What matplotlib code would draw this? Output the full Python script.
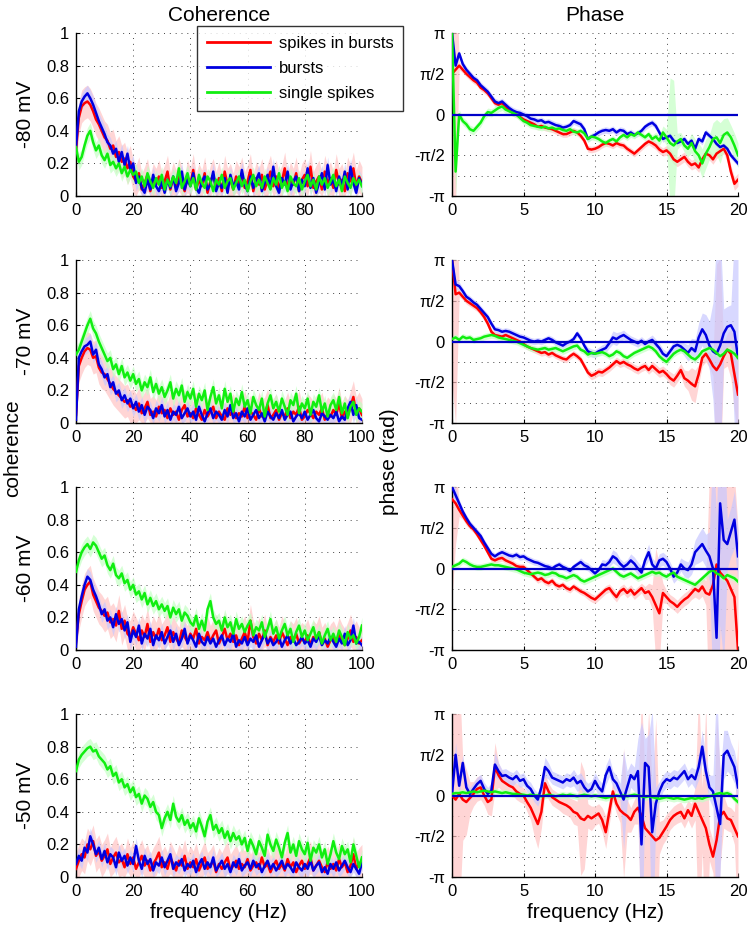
import numpy as np
import matplotlib.pyplot as plt
from matplotlib.ticker import MultipleLocator

plt.rcParams['font.family'] = ['Liberation Sans', 'DejaVu Sans']

rows = ['-80 mV', '-70 mV', '-60 mV', '-50 mV']
series = ['spikes in bursts', 'bursts', 'single spikes']

# coherence, read at 1 Hz steps from 0 to 100 Hz
coh80_red = [0.28, 0.48, 0.55, 0.57, 0.58, 0.56, 0.52, 0.47, 0.44, 0.40,
             0.36, 0.34, 0.29, 0.31, 0.24, 0.27, 0.21, 0.23, 0.17, 0.21,
             0.12, 0.09, 0.14, 0.04, 0.08, 0.13, 0.03, 0.10, 0.07, 0.12,
             0.05, 0.09, 0.15, 0.04, 0.11, 0.06, 0.13, 0.08, 0.03, 0.12,
             0.07, 0.16, 0.04, 0.10, 0.06, 0.14, 0.02, 0.09, 0.13, 0.05,
             0.11, 0.03, 0.15, 0.07, 0.10, 0.04, 0.12, 0.08, 0.14, 0.05,
             0.09, 0.16, 0.03, 0.11, 0.07, 0.13, 0.04, 0.10, 0.15, 0.06,
             0.12, 0.05, 0.09, 0.17, 0.04, 0.11, 0.07, 0.14, 0.03, 0.10,
             0.13, 0.06, 0.18, 0.05, 0.09, 0.12, 0.04, 0.15, 0.08, 0.11,
             0.05, 0.16, 0.07, 0.10, 0.03, 0.14, 0.09, 0.17, 0.06, 0.12,
             0.08]
coh80_blue = [0.30, 0.52, 0.58, 0.61, 0.63, 0.60, 0.56, 0.51, 0.46, 0.42,
              0.38, 0.33, 0.31, 0.26, 0.29, 0.21, 0.27, 0.19, 0.26, 0.16,
              0.20, 0.08, 0.12, 0.05, 0.02, 0.10, 0.04, 0.13, 0.06, 0.03,
              0.09, 0.02, 0.10, 0.05, 0.12, 0.03, 0.08, 0.15, 0.04, 0.10,
              0.06, 0.14, 0.05, 0.02, 0.09, 0.12, 0.04, 0.07, 0.15, 0.03,
              0.08, 0.05, 0.11, 0.02, 0.13, 0.06, 0.09, 0.04, 0.16, 0.07,
              0.03, 0.12, 0.05, 0.10, 0.14, 0.03, 0.08, 0.13, 0.05, 0.18,
              0.06, 0.02, 0.11, 0.07, 0.15, 0.04, 0.09, 0.12, 0.03, 0.10,
              0.06, 0.17, 0.05, 0.11, 0.02, 0.08, 0.14, 0.04, 0.19, 0.07,
              0.10, 0.03, 0.12, 0.06, 0.15, 0.04, 0.18, 0.08, 0.02, 0.11,
              0.07]
coh80_green = [0.30, 0.21, 0.24, 0.31, 0.37, 0.40, 0.33, 0.28, 0.31, 0.25,
               0.22, 0.26, 0.19, 0.21, 0.17, 0.20, 0.14, 0.18, 0.12, 0.16,
               0.13, 0.15, 0.08, 0.12, 0.06, 0.14, 0.09, 0.05, 0.11, 0.07,
               0.13, 0.04, 0.10, 0.06, 0.12, 0.08, 0.17, 0.05, 0.09, 0.14,
               0.06, 0.11, 0.04, 0.13, 0.08, 0.05, 0.12, 0.09, 0.03, 0.10,
               0.07, 0.13, 0.05, 0.09, 0.11, 0.04, 0.08, 0.12, 0.06, 0.10,
               0.03, 0.09, 0.13, 0.06, 0.10, 0.05, 0.12, 0.08, 0.04, 0.11,
               0.07, 0.14, 0.05, 0.09, 0.03, 0.12, 0.08, 0.06, 0.11, 0.04,
               0.09, 0.13, 0.06, 0.10, 0.04, 0.12, 0.07, 0.11, 0.05, 0.09,
               0.13, 0.06, 0.10, 0.03, 0.12, 0.08, 0.05, 0.11, 0.07, 0.10,
               0.06]

coh70_red = [0.05, 0.35, 0.40, 0.44, 0.46, 0.45, 0.40, 0.41, 0.34, 0.31,
             0.30, 0.27, 0.24, 0.21, 0.19, 0.17, 0.15, 0.13, 0.14, 0.10,
             0.11, 0.08, 0.12, 0.06, 0.09, 0.13, 0.05, 0.07, 0.04, 0.10,
             0.06, 0.08, 0.03, 0.09, 0.05, 0.07, 0.02, 0.08, 0.11, 0.04,
             0.06, 0.03, 0.09, 0.05, 0.02, 0.08, 0.04, 0.07, 0.10, 0.03,
             0.07, 0.04, 0.02, 0.09, 0.05, 0.08, 0.03, 0.06, 0.04, 0.10,
             0.03, 0.07, 0.05, 0.02, 0.09, 0.04, 0.06, 0.11, 0.03, 0.05,
             0.08, 0.02, 0.06, 0.04, 0.09, 0.03, 0.07, 0.05, 0.10, 0.02,
             0.04, 0.08, 0.06, 0.03, 0.07, 0.05, 0.09, 0.02, 0.06, 0.04,
             0.08, 0.05, 0.12, 0.03, 0.07, 0.04, 0.10, 0.16, 0.06, 0.09,
             0.05]
coh70_blue = [0.02, 0.40, 0.44, 0.47, 0.48, 0.50, 0.42, 0.45, 0.36, 0.33,
              0.28, 0.30, 0.22, 0.25, 0.18, 0.20, 0.14, 0.17, 0.12, 0.15,
              0.09, 0.13, 0.07, 0.11, 0.05, 0.10, 0.08, 0.03, 0.09, 0.06,
              0.11, 0.04, 0.08, 0.02, 0.07, 0.05, 0.10, 0.03, 0.06, 0.09,
              0.04, 0.07, 0.02, 0.10, 0.05, 0.01, 0.06, 0.09, 0.03, 0.07,
              0.05, 0.02, 0.08, 0.04, 0.11, 0.03, 0.06, 0.01, 0.07, 0.04,
              0.09, 0.02, 0.05, 0.08, 0.03, 0.06, 0.01, 0.07, 0.04, 0.02,
              0.06, 0.03, 0.08, 0.02, 0.05, 0.07, 0.01, 0.04, 0.06, 0.03,
              0.07, 0.02, 0.05, 0.08, 0.03, 0.01, 0.06, 0.04, 0.02, 0.05,
              0.03, 0.07, 0.01, 0.04, 0.02, 0.09, 0.13, 0.05, 0.11, 0.03,
              0.02]
coh70_green = [0.42, 0.45, 0.50, 0.55, 0.60, 0.64, 0.58, 0.55, 0.50, 0.46,
               0.42, 0.38, 0.40, 0.33, 0.36, 0.30, 0.35, 0.28, 0.31, 0.26,
               0.30, 0.24, 0.27, 0.20, 0.25, 0.22, 0.28, 0.19, 0.24, 0.18,
               0.22, 0.16, 0.20, 0.25, 0.15, 0.21, 0.17, 0.23, 0.13, 0.19,
               0.15, 0.21, 0.10, 0.18, 0.14, 0.20, 0.08, 0.16, 0.22, 0.12,
               0.17, 0.09, 0.21, 0.13, 0.18, 0.07, 0.15, 0.11, 0.19, 0.10,
               0.14, 0.06, 0.16, 0.11, 0.08, 0.15, 0.04, 0.12, 0.17, 0.09,
               0.13, 0.07, 0.15, 0.10, 0.05, 0.14, 0.11, 0.18, 0.06, 0.12,
               0.09, 0.15, 0.05, 0.13, 0.10, 0.17, 0.07, 0.12, 0.04, 0.11,
               0.14, 0.08, 0.16, 0.06, 0.12, 0.03, 0.10, 0.13, 0.05, 0.09,
               0.07]

coh60_red = [0.05, 0.22, 0.30, 0.37, 0.40, 0.42, 0.34, 0.30, 0.26, 0.24,
             0.21, 0.23, 0.17, 0.19, 0.15, 0.24, 0.13, 0.18, 0.10, 0.08,
             0.14, 0.10, 0.06, 0.12, 0.08, 0.16, 0.05, 0.11, 0.07, 0.13,
             0.06, 0.09, 0.14, 0.05, 0.11, 0.07, 0.04, 0.12, 0.08, 0.05,
             0.10, 0.07, 0.13, 0.04, 0.08, 0.06, 0.11, 0.05, 0.09, 0.12,
             0.04, 0.08, 0.13, 0.06, 0.10, 0.05, 0.09, 0.03, 0.07, 0.11,
             0.05, 0.18, 0.08, 0.04, 0.10, 0.06, 0.12, 0.03, 0.08, 0.05,
             0.09, 0.04, 0.11, 0.07, 0.03, 0.08, 0.06, 0.10, 0.04, 0.07,
             0.05, 0.09, 0.03, 0.08, 0.06, 0.11, 0.04, 0.07, 0.02, 0.06,
             0.08, 0.04, 0.10, 0.06, 0.03, 0.07, 0.12, 0.05, 0.08, 0.04,
             0.06]
coh60_blue = [0.02, 0.25, 0.33, 0.40, 0.45, 0.43, 0.37, 0.33, 0.28, 0.22,
              0.25, 0.18, 0.20, 0.14, 0.22, 0.16, 0.19, 0.12, 0.17, 0.05,
              0.12, 0.08, 0.15, 0.04, 0.10, 0.07, 0.13, 0.03, 0.09, 0.06,
              0.11, 0.04, 0.08, 0.12, 0.05, 0.10, 0.03, 0.07, 0.13, 0.04,
              0.09, 0.06, 0.02, 0.10, 0.05, 0.03, 0.08, 0.04, 0.07, 0.02,
              0.06, 0.09, 0.03, 0.07, 0.05, 0.10, 0.02, 0.06, 0.04, 0.08,
              0.03, 0.07, 0.05, 0.09, 0.02, 0.06, 0.10, 0.04, 0.07, 0.03,
              0.05, 0.08, 0.02, 0.06, 0.09, 0.04, 0.07, 0.03, 0.05, 0.08,
              0.04, 0.06, 0.02, 0.07, 0.05, 0.09, 0.03, 0.06, 0.04, 0.08,
              0.05, 0.02, 0.07, 0.04, 0.10, 0.03, 0.06, 0.15, 0.04, 0.05,
              0.03]
coh60_green = [0.48, 0.55, 0.60, 0.63, 0.65, 0.62, 0.66, 0.64, 0.60, 0.56,
               0.58, 0.52, 0.49, 0.53, 0.46, 0.44, 0.47, 0.41, 0.43, 0.37,
               0.40, 0.34, 0.36, 0.31, 0.35, 0.28, 0.32, 0.27, 0.30, 0.25,
               0.28, 0.24, 0.27, 0.20, 0.26, 0.22, 0.25, 0.18, 0.23, 0.21,
               0.17, 0.15, 0.21, 0.13, 0.18, 0.12, 0.25, 0.30, 0.20, 0.16,
               0.18, 0.12, 0.20, 0.14, 0.17, 0.10, 0.19, 0.13, 0.16, 0.11,
               0.15, 0.18, 0.09, 0.14, 0.12, 0.17, 0.08, 0.13, 0.19, 0.10,
               0.14, 0.07, 0.12, 0.16, 0.09, 0.13, 0.05, 0.11, 0.15, 0.08,
               0.12, 0.06, 0.10, 0.14, 0.07, 0.11, 0.04, 0.09, 0.13, 0.06,
               0.10, 0.05, 0.12, 0.08, 0.03, 0.11, 0.07, 0.09, 0.04, 0.08,
               0.15]

coh50_red = [0.05, 0.10, 0.14, 0.12, 0.20, 0.17, 0.22, 0.13, 0.16, 0.10,
             0.13, 0.17, 0.08, 0.12, 0.15, 0.09, 0.11, 0.06, 0.14, 0.08,
             0.12, 0.05, 0.09, 0.13, 0.07, 0.10, 0.04, 0.08, 0.11, 0.15,
             0.06, 0.09, 0.05, 0.12, 0.08, 0.04, 0.10, 0.07, 0.13, 0.05,
             0.09, 0.06, 0.11, 0.04, 0.08, 0.12, 0.05, 0.07, 0.10, 0.03,
             0.08, 0.05, 0.09, 0.12, 0.04, 0.07, 0.10, 0.05, 0.08, 0.06,
             0.11, 0.04, 0.07, 0.09, 0.05, 0.12, 0.06, 0.08, 0.03, 0.07,
             0.10, 0.05, 0.08, 0.04, 0.11, 0.06, 0.09, 0.03, 0.07, 0.10,
             0.05, 0.08, 0.12, 0.04, 0.07, 0.10, 0.06, 0.03, 0.09, 0.05,
             0.08, 0.04, 0.11, 0.06, 0.09, 0.03, 0.07, 0.14, 0.05, 0.08,
             0.10]
coh50_blue = [0.08, 0.13, 0.10, 0.18, 0.15, 0.25, 0.20, 0.14, 0.18, 0.11,
              0.16, 0.09, 0.14, 0.12, 0.06, 0.15, 0.10, 0.13, 0.07, 0.12,
              0.08, 0.19, 0.10, 0.05, 0.13, 0.08, 0.11, 0.04, 0.09, 0.07,
              0.12, 0.06, 0.10, 0.14, 0.05, 0.09, 0.07, 0.11, 0.04, 0.08,
              0.06, 0.10, 0.03, 0.08, 0.11, 0.05, 0.09, 0.06, 0.12, 0.04,
              0.07, 0.10, 0.05, 0.08, 0.03, 0.09, 0.06, 0.11, 0.04, 0.07,
              0.09, 0.05, 0.10, 0.06, 0.08, 0.03, 0.07, 0.10, 0.05, 0.08,
              0.04, 0.07, 0.10, 0.05, 0.08, 0.06, 0.03, 0.09, 0.06, 0.04,
              0.08, 0.05, 0.10, 0.04, 0.07, 0.09, 0.03, 0.06, 0.02, 0.08,
              0.05, 0.09, 0.04, 0.07, 0.10, 0.06, 0.03, 0.08, 0.05, 0.02,
              0.09]
coh50_green = [0.65, 0.72, 0.75, 0.77, 0.79, 0.80, 0.77, 0.78, 0.74, 0.72,
               0.70, 0.66, 0.68, 0.62, 0.64, 0.58, 0.60, 0.55, 0.57, 0.52,
               0.55, 0.49, 0.51, 0.45, 0.50, 0.48, 0.43, 0.46, 0.40, 0.38,
               0.30, 0.36, 0.40, 0.35, 0.45, 0.37, 0.34, 0.38, 0.32, 0.35,
               0.30, 0.33, 0.28, 0.36, 0.31, 0.25, 0.34, 0.38, 0.29, 0.32,
               0.27, 0.30, 0.24, 0.28, 0.22, 0.27, 0.23, 0.25, 0.20, 0.24,
               0.16, 0.23, 0.19, 0.14, 0.22, 0.18, 0.13, 0.26, 0.20, 0.16,
               0.23, 0.18, 0.12, 0.21, 0.27, 0.15, 0.20, 0.13, 0.22, 0.17,
               0.14, 0.21, 0.10, 0.18, 0.15, 0.20, 0.12, 0.17, 0.08, 0.14,
               0.22, 0.15, 0.11, 0.19, 0.14, 0.17, 0.09, 0.20, 0.13, 0.06,
               0.12]

# half width of the shaded error bands (red, blue, green)
coh_band = [0.10, 0.05, 0.05]

# phase in units of pi, read at 0.25 Hz steps from 0 to 20 Hz
ph80_red = [0.50, 0.55, 0.60, 0.55, 0.50, 0.46, 0.42, 0.39,
            0.33, 0.30, 0.26, 0.20, 0.14, 0.12, 0.14, 0.10,
            0.05, 0.02, 0.00, -0.03, -0.06, -0.08, -0.10, -0.12,
            -0.15, -0.14, -0.16, -0.17, -0.18, -0.20, -0.22, -0.24,
            -0.24, -0.22, -0.20, -0.22, -0.26, -0.32, -0.42, -0.43,
            -0.42, -0.40, -0.37, -0.35, -0.36, -0.38, -0.35, -0.37,
            -0.38, -0.42, -0.45, -0.48, -0.44, -0.40, -0.36, -0.33,
            -0.35, -0.38, -0.43, -0.46, -0.44, -0.48, -0.55, -0.58,
            -0.55, -0.52, -0.58, -0.62, -0.60, -0.65, -0.55, -0.48,
            -0.50, -0.55, -0.48, -0.45, -0.42, -0.50, -0.70, -0.85,
            -0.80]
ph80_blue = [1.00, 0.60, 0.75, 0.62, 0.55, 0.50, 0.45, 0.42,
             0.36, 0.32, 0.28, 0.22, 0.16, 0.14, 0.16, 0.12,
             0.08, 0.05, 0.03, 0.02, 0.00, -0.02, -0.05, -0.06,
             -0.08, -0.07, -0.10, -0.09, -0.11, -0.13, -0.14, -0.16,
             -0.15, -0.13, -0.08, -0.10, -0.12, -0.18, -0.30, -0.27,
             -0.25, -0.22, -0.20, -0.19, -0.20, -0.18, -0.22, -0.19,
             -0.20, -0.24, -0.22, -0.25, -0.23, -0.20, -0.15, -0.12,
             -0.10, -0.14, -0.22, -0.30, -0.28, -0.26, -0.32, -0.35,
             -0.33, -0.30, -0.36, -0.32, -0.42, -0.30, -0.33, -0.22,
             -0.26, -0.30, -0.36, -0.40, -0.38, -0.42, -0.50, -0.55,
             -0.60]
ph80_green = [1.00, -0.70, 0.00, -0.08, -0.12, -0.18, -0.20, -0.15,
              -0.10, -0.02, 0.03, 0.02, 0.05, 0.08, 0.10, 0.06,
              0.04, 0.02, 0.00, -0.04, -0.08, -0.10, -0.13, -0.14,
              -0.15, -0.16, -0.15, -0.17, -0.16, -0.18, -0.17, -0.19,
              -0.20, -0.18, -0.21, -0.22, -0.20, -0.23, -0.30, -0.27,
              -0.28, -0.30, -0.33, -0.35, -0.32, -0.30, -0.33, -0.28,
              -0.25, -0.28, -0.24, -0.26, -0.22, -0.25, -0.28, -0.24,
              -0.30, -0.27, -0.32, -0.22, -0.28, -0.35, -0.38, -0.33,
              -0.30, -0.38, -0.42, -0.35, -0.45, -0.50, -0.60, -0.48,
              -0.40, -0.30, -0.28, -0.35, -0.25, -0.22, -0.28, -0.38,
              -0.50]
ph80_red_w = [1.50, 1.60, 0.05, 0.04, 0.04, 0.04, 0.04, 0.04,
              0.04, 0.04, 0.04, 0.04, 0.04, 0.04, 0.04, 0.04,
              0.04, 0.04, 0.04, 0.04, 0.04, 0.04, 0.04, 0.04,
              0.04, 0.04, 0.04, 0.04, 0.04, 0.04, 0.04, 0.04,
              0.04, 0.04, 0.04, 0.04, 0.04, 0.04, 0.04, 0.04,
              0.04, 0.04, 0.04, 0.04, 0.04, 0.04, 0.04, 0.04,
              0.04, 0.04, 0.04, 0.04, 0.04, 0.04, 0.04, 0.04,
              0.05, 0.05, 0.05, 0.05, 0.06, 0.06, 0.06, 0.06,
              0.06, 0.06, 0.06, 0.06, 0.06, 0.06, 0.06, 0.06,
              0.06, 0.06, 0.06, 0.06, 0.06, 0.08, 0.08, 0.08,
              0.08]
ph80_green_w = [0.10, 0.30, 0.06, 0.05, 0.05, 0.05, 0.05, 0.05,
                0.05, 0.05, 0.05, 0.05, 0.05, 0.05, 0.05, 0.05,
                0.04, 0.04, 0.04, 0.04, 0.04, 0.04, 0.04, 0.04,
                0.04, 0.04, 0.04, 0.04, 0.04, 0.04, 0.04, 0.04,
                0.04, 0.04, 0.04, 0.04, 0.04, 0.04, 0.04, 0.04,
                0.04, 0.04, 0.04, 0.04, 0.04, 0.04, 0.04, 0.04,
                0.04, 0.04, 0.04, 0.04, 0.04, 0.04, 0.04, 0.04,
                0.05, 0.05, 0.06, 0.08, 0.10, 0.80, 0.80, 0.10,
                0.08, 0.08, 0.10, 0.12, 0.15, 0.15, 0.18, 0.18,
                0.15, 0.20, 0.22, 0.25, 0.20, 0.18, 0.15, 0.15,
                0.15]

ph70_red = [1.00, 0.58, 0.60, 0.55, 0.50, 0.47, 0.44, 0.41,
            0.36, 0.30, 0.22, 0.12, 0.08, 0.07, 0.06, 0.08,
            0.06, 0.04, 0.02, 0.00, -0.03, -0.06, -0.08, -0.10,
            -0.12, -0.14, -0.13, -0.16, -0.14, -0.17, -0.19, -0.21,
            -0.22, -0.18, -0.15, -0.18, -0.22, -0.30, -0.38, -0.42,
            -0.40, -0.37, -0.38, -0.35, -0.32, -0.28, -0.24, -0.27,
            -0.25, -0.28, -0.30, -0.33, -0.35, -0.32, -0.30, -0.35,
            -0.30, -0.34, -0.38, -0.36, -0.40, -0.45, -0.48, -0.42,
            -0.35, -0.45, -0.48, -0.52, -0.55, -0.40, -0.20, -0.15,
            -0.22, -0.30, -0.35, -0.28, -0.18, -0.10, -0.15, -0.40,
            -0.65]
ph70_blue = [1.00, 0.70, 0.68, 0.62, 0.55, 0.52, 0.48, 0.45,
             0.40, 0.35, 0.30, 0.22, 0.15, 0.14, 0.12, 0.13,
             0.12, 0.10, 0.08, 0.06, 0.05, 0.03, 0.01, 0.00,
             0.01, 0.00, 0.02, 0.04, 0.02, -0.01, -0.03, -0.05,
             -0.02, 0.00, 0.03, 0.10, 0.04, -0.05, -0.12, -0.14,
             -0.15, -0.12, -0.10, -0.08, -0.02, 0.05, 0.03, 0.06,
             0.08, 0.05, 0.02, 0.00, -0.02, 0.01, -0.03, 0.00,
             0.02, -0.03, -0.08, -0.15, -0.18, -0.12, -0.06, -0.04,
             -0.06, -0.10, -0.14, -0.08, -0.12, 0.05, 0.15, 0.08,
             -0.05, -0.12, -0.15, -0.05, 0.10, 0.18, 0.20, 0.12,
             -0.20]
ph70_green = [0.03, 0.05, 0.02, 0.06, 0.04, 0.05, 0.02, 0.03,
              0.04, 0.06, 0.07, 0.08, 0.07, 0.05, 0.04, 0.03,
              0.02, 0.01, 0.00, -0.02, -0.04, -0.06, -0.08, -0.09,
              -0.10, -0.09, -0.08, -0.10, -0.09, -0.08, -0.10, -0.12,
              -0.10, -0.08, -0.06, -0.05, -0.10, -0.12, -0.16, -0.14,
              -0.15, -0.14, -0.13, -0.15, -0.18, -0.16, -0.12, -0.14,
              -0.18, -0.20, -0.17, -0.14, -0.12, -0.10, -0.08, -0.06,
              -0.08, -0.12, -0.18, -0.22, -0.25, -0.20, -0.15, -0.12,
              -0.10, -0.12, -0.16, -0.20, -0.22, -0.18, -0.12, -0.10,
              -0.08, -0.10, -0.14, -0.18, -0.15, -0.10, -0.12, -0.15,
              -0.20]
ph70_red_w = [1.50, 1.60, 0.05, 0.04, 0.04, 0.04, 0.04, 0.04,
              0.04, 0.04, 0.04, 0.04, 0.04, 0.04, 0.04, 0.04,
              0.04, 0.04, 0.04, 0.04, 0.04, 0.04, 0.04, 0.04,
              0.04, 0.04, 0.04, 0.04, 0.04, 0.04, 0.04, 0.04,
              0.04, 0.04, 0.04, 0.04, 0.04, 0.04, 0.05, 0.05,
              0.05, 0.05, 0.05, 0.05, 0.05, 0.05, 0.05, 0.05,
              0.05, 0.05, 0.05, 0.05, 0.05, 0.05, 0.05, 0.05,
              0.06, 0.06, 0.06, 0.06, 0.06, 0.08, 0.08, 0.08,
              0.08, 0.10, 0.12, 0.20, 0.20, 0.12, 0.10, 0.10,
              0.10, 0.12, 1.30, 1.30, 0.15, 0.20, 0.30, 0.45,
              0.50]
ph70_blue_w = [0.10, 0.06, 0.05, 0.04, 0.04, 0.04, 0.04, 0.04,
               0.04, 0.04, 0.04, 0.04, 0.04, 0.04, 0.04, 0.04,
               0.04, 0.04, 0.04, 0.04, 0.04, 0.04, 0.04, 0.04,
               0.04, 0.04, 0.04, 0.04, 0.04, 0.04, 0.04, 0.04,
               0.04, 0.04, 0.04, 0.04, 0.04, 0.04, 0.05, 0.05,
               0.05, 0.05, 0.06, 0.06, 0.06, 0.08, 0.08, 0.06,
               0.06, 0.05, 0.05, 0.05, 0.05, 0.05, 0.05, 0.05,
               0.06, 0.06, 0.06, 0.06, 0.06, 0.06, 0.06, 0.06,
               0.06, 0.08, 0.10, 0.12, 0.15, 0.18, 0.20, 0.25,
               0.30, 0.60, 1.40, 1.40, 0.30, 0.25, 0.25, 1.20,
               1.30]

ph60_red = [0.85, 0.80, 0.72, 0.65, 0.58, 0.52, 0.48, 0.42,
            0.35, 0.28, 0.20, 0.12, 0.10, 0.12, 0.13, 0.10,
            0.08, 0.06, 0.03, 0.02, 0.02, -0.02, -0.06, -0.10,
            -0.14, -0.12, -0.16, -0.18, -0.15, -0.20, -0.22, -0.20,
            -0.24, -0.26, -0.22, -0.25, -0.28, -0.30, -0.33, -0.36,
            -0.38, -0.34, -0.30, -0.26, -0.24, -0.30, -0.35, -0.28,
            -0.25, -0.30, -0.26, -0.32, -0.28, -0.24, -0.30, -0.28,
            -0.35, -0.45, -0.55, -0.30, -0.35, -0.40, -0.43, -0.47,
            -0.42, -0.38, -0.35, -0.30, -0.25, -0.28, -0.22, -0.30,
            -0.32, -0.20, 0.05, -0.05, -0.10, -0.15, -0.25, -0.35,
            -1.00]
ph60_blue = [1.00, 0.90, 0.80, 0.70, 0.62, 0.55, 0.50, 0.45,
             0.40, 0.32, 0.25, 0.18, 0.15, 0.18, 0.20, 0.18,
             0.16, 0.15, 0.17, 0.14, 0.15, 0.12, 0.10, 0.08,
             0.07, 0.05, 0.03, 0.02, 0.00, 0.03, 0.05, 0.02,
             0.00, -0.03, 0.02, 0.05, 0.08, 0.04, 0.02, -0.02,
             -0.06, -0.02, 0.05, 0.04, 0.08, 0.15, 0.12, 0.06,
             0.02, 0.05, 0.10, 0.06, 0.00, -0.05, 0.10, 0.20,
             0.05, 0.00, 0.10, 0.12, 0.08, 0.00, -0.10, -0.05,
             0.05, 0.00, -0.02, 0.05, 0.20, 0.25, 0.30, 0.22,
             0.15, 0.00, -0.85, 0.80, 0.35, 0.30, 0.45, 0.60,
             0.15]
ph60_green = [0.02, 0.04, 0.06, 0.10, 0.08, 0.05, 0.03, 0.02,
              0.02, 0.03, 0.04, 0.05, 0.04, 0.04, 0.03, 0.02,
              0.01, 0.00, -0.01, -0.03, -0.05, -0.06, -0.07, -0.06,
              -0.05, -0.06, -0.08, -0.07, -0.05, -0.06, -0.09, -0.10,
              -0.12, -0.10, -0.08, -0.10, -0.14, -0.16, -0.14, -0.12,
              -0.10, -0.08, -0.06, -0.04, -0.02, 0.00, -0.04, -0.08,
              -0.10, -0.08, -0.06, -0.09, -0.12, -0.10, -0.08, -0.06,
              -0.04, -0.06, -0.05, -0.08, -0.10, -0.07, -0.05, -0.10,
              -0.12, -0.14, -0.16, -0.18, -0.20, -0.16, -0.12, -0.08,
              -0.04, -0.02, -0.06, -0.08, -0.12, -0.08, -0.10, -0.12,
              -0.16]
ph60_red_w = [1.20, 0.50, 0.08, 0.05, 0.05, 0.04, 0.04, 0.04,
              0.04, 0.04, 0.04, 0.04, 0.04, 0.04, 0.04, 0.04,
              0.04, 0.04, 0.04, 0.04, 0.04, 0.04, 0.04, 0.04,
              0.04, 0.04, 0.04, 0.04, 0.04, 0.04, 0.04, 0.04,
              0.04, 0.04, 0.04, 0.04, 0.04, 0.04, 0.05, 0.05,
              0.05, 0.05, 0.05, 0.05, 0.05, 0.06, 0.06, 0.06,
              0.06, 0.06, 0.06, 0.06, 0.06, 0.06, 0.08, 0.10,
              0.15, 0.70, 0.60, 0.12, 0.08, 0.08, 0.08, 0.08,
              0.08, 0.08, 0.08, 0.08, 0.10, 0.10, 0.12, 0.15,
              1.50, 1.50, 1.50, 1.50, 1.50, 1.50, 1.50, 1.50,
              1.50]
ph60_blue_w = [0.10, 0.08, 0.05, 0.04, 0.04, 0.04, 0.04, 0.04,
               0.04, 0.04, 0.04, 0.04, 0.04, 0.04, 0.04, 0.04,
               0.04, 0.04, 0.04, 0.04, 0.04, 0.04, 0.04, 0.04,
               0.04, 0.04, 0.04, 0.04, 0.04, 0.04, 0.04, 0.04,
               0.04, 0.04, 0.04, 0.04, 0.05, 0.05, 0.05, 0.05,
               0.05, 0.05, 0.06, 0.06, 0.06, 0.08, 0.08, 0.06,
               0.06, 0.06, 0.08, 0.08, 0.08, 0.08, 0.08, 0.10,
               0.08, 0.08, 0.08, 0.08, 0.08, 0.08, 0.08, 0.08,
               0.08, 0.10, 0.10, 0.12, 0.15, 0.18, 0.20, 0.20,
               0.30, 1.50, 1.50, 1.50, 1.50, 0.30, 0.30, 0.35,
               0.30]

ph50_red = [0.00, -0.05, 0.02, -0.05, -0.08, -0.03, 0.02, 0.08,
            0.10, 0.00, -0.08, -0.05, 0.35, 0.25, 0.18, 0.15,
            0.12, 0.10, 0.05, 0.02, 0.00, -0.08, -0.15, -0.25,
            -0.35, -0.20, 0.15, 0.05, -0.02, -0.05, -0.08, -0.10,
            -0.12, -0.15, -0.20, -0.22, -0.28, -0.30, -0.25, -0.28,
            -0.25, -0.22, -0.30, -0.45, -0.20, 0.05, -0.10, -0.18,
            -0.22, -0.25, -0.30, -0.20, -0.15, -0.25, -0.40, -0.45,
            -0.50, -0.55, -0.52, -0.45, -0.38, -0.30, -0.25, -0.22,
            -0.20, -0.28, -0.18, -0.25, -0.10, -0.20, -0.30, -0.40,
            -0.60, -0.75, -0.55, -0.25, -0.20, -0.28, -0.30, -0.40,
            -0.50]
ph50_blue = [0.02, 0.50, 0.12, 0.40, 0.10, 0.02, 0.08, 0.14,
             0.18, 0.08, 0.02, 0.06, 0.38, 0.30, 0.24, 0.25,
             0.22, 0.20, 0.24, 0.18, 0.20, 0.12, 0.08, 0.00,
             -0.05, 0.10, 0.35, 0.30, 0.22, 0.20, 0.18, 0.16,
             0.20, 0.18, 0.22, 0.15, 0.18, 0.10, 0.05, 0.08,
             0.18, 0.10, 0.05, 0.25, 0.35, 0.20, 0.15, 0.05,
             -0.05, 0.10, 0.25, 0.20, 0.30, -0.60, 0.40, 0.35,
             -0.45, -0.10, 0.05, 0.15, 0.20, 0.18, 0.22, 0.20,
             0.25, 0.30, 0.20, 0.25, 0.20, 0.35, 0.60, 0.30,
             0.10, 0.05, -0.15, -0.35, 0.50, 0.55, 0.45, 0.35,
             0.10]
ph50_green = [0.02, 0.03, 0.03, 0.04, 0.03, 0.04, 0.05, 0.04,
              0.05, 0.06, 0.05, 0.04, 0.05, 0.04, 0.03, 0.04,
              0.03, 0.02, 0.02, 0.01, 0.01, 0.00, 0.01, 0.00,
              0.00, -0.01, 0.00, 0.01, 0.00, -0.01, 0.00, 0.01,
              0.00, 0.01, 0.00, -0.01, 0.00, 0.01, 0.00, -0.01,
              0.00, -0.01, -0.02, -0.03, -0.02, -0.01, 0.00, -0.01,
              0.00, -0.01, 0.00, 0.01, 0.00, -0.01, -0.02, -0.01,
              -0.02, -0.03, -0.04, -0.03, -0.02, -0.03, -0.04, -0.03,
              -0.04, -0.05, -0.04, -0.03, -0.04, -0.03, -0.04, -0.02,
              -0.01, 0.00, 0.02, 0.03, 0.02, 0.03, 0.01, -0.04,
              -0.08]
ph50_red_w = [1.50, 1.50, 1.50, 0.50, 0.40, 0.20, 0.15, 0.15,
              0.15, 0.12, 0.15, 0.20, 0.30, 0.15, 0.12, 0.12,
              0.10, 0.10, 0.10, 0.10, 0.10, 0.12, 0.15, 0.25,
              0.30, 0.20, 0.12, 0.10, 0.10, 0.10, 0.10, 0.12,
              0.12, 0.12, 0.15, 0.15, 0.70, 0.60, 0.15, 0.15,
              0.12, 0.12, 0.15, 0.20, 0.15, 0.12, 0.12, 0.15,
              0.80, 0.20, 0.15, 0.15, 0.20, 1.50, 0.60, 1.50,
              0.60, 1.50, 0.20, 0.15, 0.15, 0.12, 0.12, 0.12,
              0.12, 0.12, 0.12, 0.15, 0.20, 1.50, 0.40, 1.50,
              0.20, 0.20, 1.50, 0.60, 0.20, 0.15, 0.15, 0.20,
              1.20]
ph50_blue_w = [0.10, 0.15, 0.10, 0.10, 0.08, 0.08, 0.08, 0.08,
               0.08, 0.08, 0.08, 0.10, 0.15, 0.10, 0.08, 0.08,
               0.08, 0.08, 0.08, 0.08, 0.08, 0.08, 0.08, 0.08,
               0.08, 0.10, 0.12, 0.10, 0.08, 0.08, 0.08, 0.08,
               0.08, 0.08, 0.10, 0.10, 0.10, 0.10, 0.10, 0.10,
               0.10, 0.10, 0.10, 0.12, 0.12, 0.10, 0.10, 0.10,
               0.60, 0.20, 0.15, 0.15, 0.40, 1.50, 0.30, 0.40,
               1.50, 0.20, 0.12, 0.10, 0.10, 0.10, 0.10, 0.10,
               0.10, 0.10, 0.10, 0.10, 0.12, 0.15, 0.20, 0.15,
               0.15, 0.20, 1.50, 0.60, 0.30, 0.25, 0.20, 0.20,
               0.20]

coh = {'-80 mV': [coh80_red, coh80_blue, coh80_green],
       '-70 mV': [coh70_red, coh70_blue, coh70_green],
       '-60 mV': [coh60_red, coh60_blue, coh60_green],
       '-50 mV': [coh50_red, coh50_blue, coh50_green]}
phase = {'-80 mV': [ph80_red, ph80_blue, ph80_green],
         '-70 mV': [ph70_red, ph70_blue, ph70_green],
         '-60 mV': [ph60_red, ph60_blue, ph60_green],
         '-50 mV': [ph50_red, ph50_blue, ph50_green]}
phase_w = {'-80 mV': [ph80_red_w, 0.04, ph80_green_w],
           '-70 mV': [ph70_red_w, ph70_blue_w, 0.04],
           '-60 mV': [ph60_red_w, ph60_blue_w, 0.04],
           '-50 mV': [ph50_red_w, ph50_blue_w, 0.04]}

line_colors = ['#ff0000', '#0000e0', '#10ee10']
band_colors = ['#ffc4c4', '#c8c8ff', '#c4ffc4']

grid_kw = dict(color='#444444', linestyle=(0, (1, 5)), linewidth=0.7)


def style(ax):
    for s in ['top', 'right']:
        ax.spines[s].set_visible(False)
    ax.spines['left'].set_linewidth(1.0)
    ax.spines['bottom'].set_linewidth(1.0)
    ax.tick_params(direction='in', length=3, labelsize=12, pad=5)
    ax.tick_params(which='minor', length=0)


def plot_coherence(ax, curves):
    for vals, w, bc in zip(curves, coh_band, band_colors):
        y = np.array(vals)
        f = np.linspace(0, 100, len(y))
        ax.fill_between(f, np.clip(y - w, 0, 1), y + w, color=bc, lw=0, alpha=0.7, zorder=1)
    for vals, lc, lab in zip(curves, line_colors, series):
        y = np.array(vals)
        f = np.linspace(0, 100, len(y))
        ax.plot(f, y, color=lc, lw=1.8, zorder=3, label=lab)
    ax.set_xlim(0, 100)
    ax.set_ylim(0, 1)
    ax.set_xticks([0, 20, 40, 60, 80, 100])
    ax.set_yticks([0, 0.2, 0.4, 0.6, 0.8, 1])
    ax.set_yticklabels(['0', '0.2', '0.4', '0.6', '0.8', '1'])
    ax.grid(True, **grid_kw)
    ax.set_axisbelow(True)


def plot_phase(ax, curves, widths):
    for vals, w, bc in zip(curves, widths, band_colors):
        y = np.array(vals) * np.pi
        w = np.broadcast_to(np.array(w) * np.pi, y.shape)
        f = np.linspace(0, 20, len(y))
        ax.fill_between(f, y - w, y + w, color=bc, lw=0, alpha=0.7, zorder=1)
    for vals, lc in zip(curves, line_colors):
        y = np.array(vals) * np.pi
        f = np.linspace(0, 20, len(y))
        ax.plot(f, y, color=lc, lw=1.8, zorder=3)
    ax.axhline(0, color='#0000c8', lw=1.6, zorder=4)
    ax.set_xlim(0, 20)
    ax.set_ylim(-np.pi, np.pi)
    ax.set_xticks([0, 5, 10, 15, 20])
    ax.set_yticks([-np.pi, -np.pi / 2, 0, np.pi / 2, np.pi])
    ax.set_yticklabels(['-π', '-π/2', '0', 'π/2', 'π'])
    ax.yaxis.set_minor_locator(MultipleLocator(np.pi / 4))
    ax.grid(True, which='both', **grid_kw)
    ax.set_axisbelow(True)


fig = plt.figure(figsize=(7.5, 9.33), dpi=100)
bottoms = [0.7899, 0.5466, 0.3033, 0.0600]
h = 0.1747
for i, (row, b) in enumerate(zip(rows, bottoms)):
    axl = fig.add_axes([0.1013, b, 0.3813, h])
    axr = fig.add_axes([0.6027, b, 0.3813, h])
    plot_coherence(axl, coh[row])
    plot_phase(axr, phase[row], phase_w[row])
    style(axl)
    style(axr)
    axl.set_ylabel(row, fontsize=15, labelpad=8)
    if i == 0:
        axl.set_title('Coherence', fontsize=15, pad=9)
        axr.set_title('Phase', fontsize=15, pad=9)
        handles, labels = axl.get_legend_handles_labels()
        leg = fig.legend(handles, labels, loc='upper left',
                         bbox_to_anchor=(197 / 750, 1 - 26 / 933),
                         fontsize=12, frameon=True, fancybox=False,
                         edgecolor='black', borderpad=0.6, labelspacing=0.6,
                         handlelength=3.8, handletextpad=0.5, borderaxespad=0)
        leg.get_frame().set_linewidth(1.0)
        for ln in leg.get_lines():
            ln.set_linewidth(2)
    if i == 3:
        axl.set_xlabel('frequency (Hz)', fontsize=15, labelpad=3)
        axr.set_xlabel('frequency (Hz)', fontsize=15, labelpad=3)

fig.text(0.017, 1 - 448 / 933, 'coherence', rotation=90, fontsize=15,
         ha='center', va='center')
fig.text(0.519, 1 - 462 / 933, 'phase (rad)', rotation=90, fontsize=15,
         ha='center', va='center')

fig.savefig('out.png', dpi=100)
